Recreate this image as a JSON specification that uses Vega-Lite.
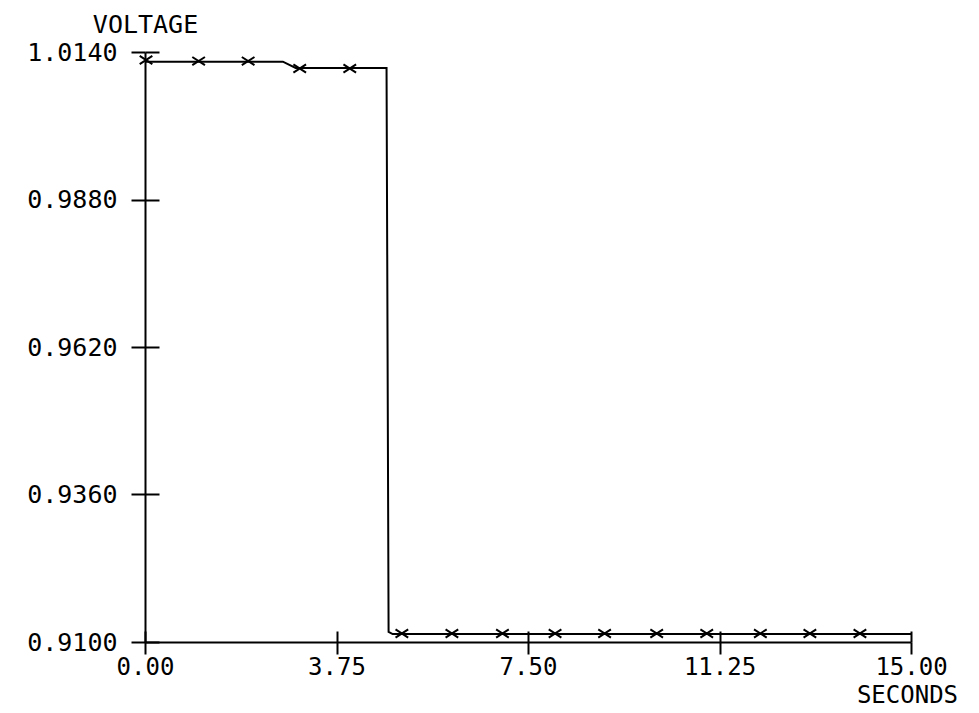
{
  "$schema": "https://vega.github.io/schema/vega-lite/v6.json",
  "width": 766,
  "height": 590,
  "autosize": "none",
  "padding": {"left": 145, "top": 52, "right": 68, "bottom": 71},
  "background": "white",
  "config": {"view": {"stroke": null}},
  "datasets": {
    "curve": [
      {"t": 0.0, "v": 1.0123},
      {"t": 2.7, "v": 1.0123},
      {"t": 2.95, "v": 1.0112},
      {"t": 4.73, "v": 1.0112},
      {"t": 4.77, "v": 0.9118},
      {"t": 4.85, "v": 0.9114},
      {"t": 15.0, "v": 0.9114}
    ],
    "marks": [
      {"t": 0.02, "v": 1.0126},
      {"t": 1.05, "v": 1.0124},
      {"t": 2.02, "v": 1.0124},
      {"t": 3.03, "v": 1.0111},
      {"t": 4.01, "v": 1.0111},
      {"t": 5.03, "v": 0.9115},
      {"t": 6.01, "v": 0.9115},
      {"t": 7.0, "v": 0.9115},
      {"t": 8.03, "v": 0.9115},
      {"t": 9.0, "v": 0.9115},
      {"t": 10.02, "v": 0.9115},
      {"t": 11.0, "v": 0.9115},
      {"t": 12.05, "v": 0.9115},
      {"t": 13.02, "v": 0.9115},
      {"t": 14.0, "v": 0.9115}
    ]
  },
  "layer": [
    {
      "data": {"name": "curve"},
      "mark": {"type": "line", "color": "black", "strokeWidth": 2, "clip": false},
      "encoding": {
        "x": {
          "field": "t", "type": "quantitative",
          "scale": {"domain": [0, 15], "nice": false, "zero": false},
          "axis": {
            "orient": "bottom",
            "values": [0, 3.75, 7.5, 11.25, 15],
            "format": ".2f",
            "grid": false,
            "domainColor": "black", "domainWidth": 2,
            "tickColor": "black", "tickWidth": 2, "tickSize": 12,
            "labelFont": "DejaVu Sans Mono", "labelFontSize": 24, "labelColor": "black",
            "labelPadding": 1, "labelFlush": false, "labelOverlap": false,
            "title": "SECONDS",
            "titleFont": "DejaVu Sans Mono", "titleFontSize": 24, "titleFontWeight": "normal", "titleColor": "black",
            "titleX": 762, "titleY": 60, "titleAlign": "center", "titleBaseline": "alphabetic", "titleAnchor": null
          }
        },
        "y": {
          "field": "v", "type": "quantitative",
          "scale": {"domain": [0.91, 1.014], "nice": false, "zero": false},
          "axis": {
            "orient": "left",
            "values": [0.91, 0.936, 0.962, 0.988, 1.014],
            "format": ".4f",
            "grid": false,
            "domainColor": "black", "domainWidth": 2,
            "tickColor": "black", "tickWidth": 2, "tickSize": 14,
            "labelFont": "DejaVu Sans Mono", "labelFontSize": 25, "labelColor": "black",
            "labelPadding": 14, "labelFlush": false, "labelOverlap": false, "labelBaseline": "middle",
            "title": "VOLTAGE",
            "titleFont": "DejaVu Sans Mono", "titleFontSize": 25, "titleFontWeight": "normal", "titleColor": "black",
            "titleAngle": 0, "titleX": 0, "titleY": -20, "titleAlign": "center", "titleBaseline": "alphabetic", "titleAnchor": null
          }
        }
      }
    },
    {
      "data": {"name": "marks"},
      "mark": {
        "type": "point",
        "shape": "M-1,-0.65L1,0.65M-1,0.65L1,-0.65",
        "filled": false, "stroke": "black", "strokeWidth": 2, "size": 160, "opacity": 1, "clip": false
      },
      "encoding": {
        "x": {
          "field": "t", "type": "quantitative",
          "axis": {
            "orient": "bottom",
            "values": [0, 3.75, 7.5, 11.25, 15],
            "grid": false, "domain": false, "labels": false, "title": null,
            "tickColor": "black", "tickWidth": 2, "tickSize": -11
          }
        },
        "y": {
          "field": "v", "type": "quantitative",
          "axis": {
            "orient": "left",
            "values": [0.91, 0.936, 0.962, 0.988, 1.014],
            "grid": false, "domain": false, "labels": false, "title": null,
            "tickColor": "black", "tickWidth": 2, "tickSize": -14
          }
        }
      }
    }
  ],
  "resolve": {"axis": {"x": "independent", "y": "independent"}}
}
